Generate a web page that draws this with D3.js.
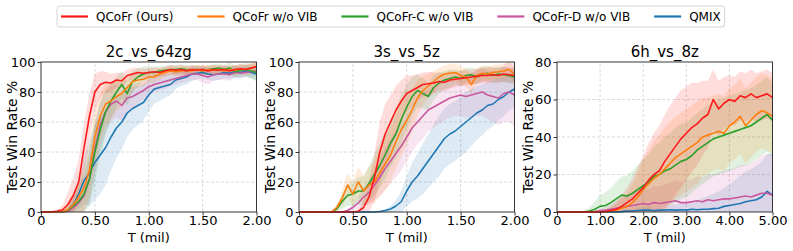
<!DOCTYPE html>
<html>
<head>
<meta charset="utf-8">
<script src="https://cdn.jsdelivr.net/npm/d3@7"></script>
<style>
body { margin: 0; background: #fff; }
text { font-family: "DejaVu Sans", sans-serif; }
</style>
</head>
<body>
<div id="graph"></div>
<script>
// method names + colours (legend order)
const methodNames = ["QCoFr (Ours)", "QCoFr w/o VIB", "QCoFr-C w/o VIB", "QCoFr-D w/o VIB", "QMIX"];
const methodColors = ["#ff1a1a", "#ff7f0e", "#2ca02c", "#c9589e", "#1f77b4"];

// evaluation steps (million timesteps)
const steps2m = d3.range(41).map(i => i * 0.05);
const steps5m = d3.range(41).map(i => i * 0.125);

// ---- 2c_vs_64zg : mean win rate and std
const qcofr2c   = [0,0,0.2,0.5,1.5,5,11,20,43,64,80,85,86.5,86,88,87.5,91,92,93,92.5,93,93.5,93,94,95,94.5,95,94,95,94.5,95,94,95,94.5,95,94,95,95.5,95,96,97];
const novib2c   = [0,0,0,0,0.3,1.5,5,10,16,28,50,64,72,74,77,79,83,87,88,88.5,90,90,92,93,94,93.5,94,94.5,94,95,94,95,94.5,95,94,95,94.5,95.5,95,96,97];
const cnovib2c  = [0,0,0,0,0.3,1,4,7,12,22,40,55,67,74,80,85,79,87,90,92,93,93,94,94.5,95,95,95.5,95,94.5,95,94,95,95.5,96,95,96,93.5,94.5,95,94,93];
const dnovib2c  = [0,0,0,0,0,0.5,3,6,11,22,42,58,67,72,74,71,76,77,79,81,83.5,85,86,87,88,89,90,91,92,92,91,90,91.5,92,92,91.5,93,92.5,93,93.5,94];
const qmix2c    = [0,0,0,0,0,1,5,12,21,26,33,38,43,50,56,60,66,69,71,73,78,82,83,84,85,88,89,90,92,92.5,93,92,91.5,92,93,92.5,93.5,93,94,93,92];
const qcofr2cSd  = [0,0,0.5,1,3,8,12,15,17,15,12,9,7,6,5,5,4,4,3,3,3,3,3,3,3,3,3,3,3,3,3,3,3,3,3,3,3,3,3,3,3];
const novib2cSd  = [0,0,0,0.5,1,4,8,12,15,18,18,16,14,12,10,9,8,6,5,5,4,4,4,3,3,3,3,3,3,3,3,3,3,3,3,3,3,3,3,3,3];
const cnovib2cSd = [0,0,0,0.5,1,3,6,10,14,18,20,18,15,12,10,9,8,7,6,5,4,4,3,3,3,3,3,3,3,3,3,3,3,3,3,4,4,4,4,5,6];
const dnovib2cSd = [0,0,0,0,0.5,2,5,8,12,15,17,16,14,12,11,10,9,8,7,6,6,5,5,5,4,4,4,4,4,4,5,5,4,4,4,4,3,3,3,3,3];
const qmix2cSd   = [0,0,0,0,0.5,2,5,10,16,22,25,26,25,22,20,18,16,14,13,12,11,10,9,8,7,6,5,5,5,4,4,4,4,4,4,4,4,4,4,4,4];

// ---- 3s_vs_5z
const qcofr3s   = [0,0,0,0,0,0,0,0,0,0,0,0.5,3,10,23,40,52,60,68,74,79,81,83,85,85.5,86,87,86.5,88,88.5,89,89.5,90,90.5,91,91,91.5,91,92,91.5,91];
const novib3s   = [0,0,0,0,0,0,0,3,9,18,12,20,14,18,20,26,32,38,47,55,61,68,76,81,84,87,90,92,92.5,93,91,90,85,91,92.5,92,93,93.5,94,95,92];
const cnovib3s  = [0,0,0,0,0,0,0,2,7,11,12,14,14,19,25,31,38,46,52,62,70,77,81,79,77,83,86,88,89,90,89,91,91.5,90,92,92.5,91,92,91.5,91,90];
const dnovib3s  = [0,0,0,0,0,0,0,0,0,1,3,6,10,13,18,23,29,34,39,44,50,56,60,64,68,70,72,74,76,77,78,77,78,79,80,78,77,76,79,80,78];
const qmix3s    = [0,0,0,0,0,0,0,0,0,0,0,0,0,0,0,0.3,1,2,4,7,14,20,24,29,34,39,44,49,52,54,57,60,63,66,68,71,72,75,77,80,82];
const qcofr3sSd  = [0,0,0,0,0,0,0,0,0,0,0,1,4,10,16,20,20,18,16,14,12,10,9,8,8,7,6,6,6,5,5,5,5,5,5,5,5,5,5,5,5];
const novib3sSd  = [0,0,0,0,0,0,0,2,5,8,8,10,10,12,14,16,18,18,18,18,16,14,12,10,8,7,6,6,6,6,6,6,6,5,5,5,5,5,5,5,5];
const cnovib3sSd = [0,0,0,0,0,0,0,2,5,7,8,9,10,12,14,15,16,16,16,16,15,13,11,10,9,8,7,6,6,5,5,5,5,5,5,5,5,5,5,5,5];
const dnovib3sSd = [0,0,0,0,0,0,0,0,0,1,2,4,6,8,10,12,14,15,16,16,16,16,15,15,14,14,13,13,13,13,14,14,15,15,16,16,17,18,19,20,21];
const qmix3sSd   = [0,0,0,0,0,0,0,0,0,0,0,0,0,0,0,0.5,1,2,4,7,10,13,15,17,18,19,20,20,20,20,20,20,19,18,17,16,15,14,13,12,12];

// ---- 6h_vs_8z
const qcofr6h   = [0,0,0,0,0,0,0,0,0,0.3,0.8,1.5,3,5,7,10,13,17,20,22,27,31,35,39,42,45,47,50,52,60,55,58,60,59,62,61,63,61,62,63,61];
const novib6h   = [0,0,0,0,0,0,0,0,0,0.2,0.5,1,2,3,5,8,12,15,18,20,23,26,29,31,33,35,37,40,41,42,43,42,46,48,51,46,49,52,54,53,51];
const cnovib6h  = [0,0,0,0,0,0,0.5,1.5,3,3.5,5,7,9,8.5,10,12,14,16,19,20,22,23,25,27,28,30,33,35,37,39,40,41,42,43,44,45,46,48,50,52,49];
const dnovib6h  = [0,0,0,0,0,0,0,0.3,0.7,1,1.5,2,2.5,3,3.5,4,4.5,4,5,4.5,5,5.5,6,5,5,5.5,6,5.5,6.5,6,6.5,7,7,7.5,8,8.5,8,9,10,10,9];
const qmix6h    = [0,0,0,0,0,0,0,0,0,0,0,0,0.2,0.5,0.5,0.8,1,1,0.8,1,1,1.2,1,1.2,1,1.5,1.2,1.5,1.5,1.8,2,3,3.5,4,4.5,5.5,6,6.5,8,11,9];
const qcofr6hSd  = [0,0,0,0,0,0,0,0,0.5,1,2,4,6,8,11,14,17,20,22,24,25,26,26,26,25,24,22,20,18,16,15,14,13,13,13,13,13,13,13,13,13];
const novib6hSd  = [0,0,0,0,0,0,0,0,0.5,1,2,3,5,7,10,13,16,18,20,21,22,22,22,22,22,22,22,21,20,20,20,20,20,20,20,20,20,20,20,20,20];
const cnovib6hSd = [0,0,0,0,0,0.5,2,4,6,7,8,9,10,11,12,13,14,15,16,17,18,19,20,20,20,20,20,20,20,20,20,20,20,20,20,20,20,20,20,20,20];
const dnovib6hSd = [0,0,0,0,0,0,0,0.5,1,2,3,4,5,6,7,8,8,8,9,9,10,10,11,11,12,12,13,13,14,14,15,15,16,16,17,17,18,19,20,21,22];
const qmix6hSd   = [0,0,0,0,0,0,0,0,0,0,0,0,0.5,1,1,1.5,2,2,2,2.5,3,3,3,3.5,4,4.5,5,6,7,8,9,10,11,13,15,16,17,18,19,20,22];

const panels = [
	{title: "2c_vs_64zg", steps: steps2m, xMax: 2, yMax: 100, xTicks: [0, 0.5, 1, 1.5, 2], yTicks: [0, 20, 40, 60, 80, 100],
	 means: [qcofr2c, novib2c, cnovib2c, dnovib2c, qmix2c], sds: [qcofr2cSd, novib2cSd, cnovib2cSd, dnovib2cSd, qmix2cSd]},
	{title: "3s_vs_5z", steps: steps2m, xMax: 2, yMax: 100, xTicks: [0, 0.5, 1, 1.5, 2], yTicks: [0, 20, 40, 60, 80, 100],
	 means: [qcofr3s, novib3s, cnovib3s, dnovib3s, qmix3s], sds: [qcofr3sSd, novib3sSd, cnovib3sSd, dnovib3sSd, qmix3sSd]},
	{title: "6h_vs_8z", steps: steps5m, xMax: 5, yMax: 80, xTicks: [0, 1, 2, 3, 4, 5], yTicks: [0, 20, 40, 60, 80],
	 means: [qcofr6h, novib6h, cnovib6h, dnovib6h, qmix6h], sds: [qcofr6hSd, novib6hSd, cnovib6hSd, dnovib6hSd, qmix6hSd]}
];

const width = 793, height = 251;
const panelLeft = [41, 299, 557];
const panelWidth = 215.5;
const padding = {top: 62, bottom: 39};

const graph = d3.select("div#graph")
	.append("svg")
	.attr("width", width)
	.attr("height", height);

const tickFormat = d => d === 0 ? "0" : d3.format(".2f")(d);

panels.forEach(function(p, k) {
	const x0 = panelLeft[k];
	const xScale = d3.scaleLinear().domain([0, p.xMax]).range([x0, x0 + panelWidth]);
	const yScale = d3.scaleLinear().domain([0, p.yMax]).range([height - padding.bottom, padding.top]);
	const g = graph.append("g").attr("class", "panel");

	// dashed grid
	g.append("g").selectAll("line.vgrid").data(p.xTicks.slice(1, -1)).enter()
		.append("line")
		.attr("x1", d => xScale(d)).attr("x2", d => xScale(d))
		.attr("y1", yScale(0)).attr("y2", yScale(p.yMax))
		.attr("stroke", "#d0d0d0").attr("stroke-width", 0.8).attr("stroke-dasharray", "3,2");
	g.append("g").selectAll("line.hgrid").data(p.yTicks.slice(1, -1)).enter()
		.append("line")
		.attr("x1", xScale(0)).attr("x2", xScale(p.xMax))
		.attr("y1", d => yScale(d)).attr("y2", d => yScale(d))
		.attr("stroke", "#d0d0d0").attr("stroke-width", 0.8).attr("stroke-dasharray", "3,2");

	// std bands first, then lines (QMIX at the back, ours on top)
	const order = [4, 3, 2, 1, 0];
	order.forEach(function(m) {
		const rows = p.steps.map((t, i) => ({t: t, v: p.means[m][i], s: p.sds[m][i]}));
		const area = d3.area()
			.x(d => xScale(d.t))
			.y0(d => yScale(Math.max(0, d.v - d.s)))
			.y1(d => yScale(Math.min(p.yMax, d.v + d.s)));
		g.append("path").datum(rows)
			.attr("fill", methodColors[m])
			.attr("fill-opacity", 0.15)
			.attr("stroke", "none")
			.attr("d", area);
	});
	order.forEach(function(m) {
		const rows = p.steps.map((t, i) => ({t: t, v: p.means[m][i]}));
		const line = d3.line()
			.x(d => xScale(d.t))
			.y(d => yScale(d.v));
		g.append("path").datum(rows)
			.attr("fill", "none")
			.attr("stroke", methodColors[m])
			.attr("stroke-width", 1.6)
			.attr("stroke-linejoin", "round")
			.attr("d", line);
	});

	// frame
	g.append("rect")
		.attr("x", xScale(0)).attr("y", yScale(p.yMax))
		.attr("width", xScale(p.xMax) - xScale(0))
		.attr("height", yScale(0) - yScale(p.yMax))
		.attr("fill", "none").attr("stroke", "#222").attr("stroke-width", 0.9);

	const xAxis = d3.axisBottom(xScale).tickValues(p.xTicks).tickFormat(tickFormat).tickSizeOuter(0).tickSize(3.5).tickPadding(0);
	const yAxis = d3.axisLeft(yScale).tickValues(p.yTicks).tickFormat(d3.format("d")).tickSizeOuter(0).tickSize(3.5).tickPadding(2);

	const gx = g.append("g")
		.attr("class", "x axis")
		.attr("transform", `translate(0, ${yScale(0)})`)
		.call(xAxis);
	const gy = g.append("g")
		.attr("class", "y axis")
		.attr("transform", `translate(${xScale(0)}, 0)`)
		.call(yAxis);
	[gx, gy].forEach(a => {
		a.select(".domain").remove();
		a.attr("font-size", 13).attr("font-family", "DejaVu Sans");
		a.selectAll("line").attr("stroke", "#222").attr("stroke-width", 0.9);
		a.selectAll("text").attr("fill", "#000");
	});

	g.append("text")
		.attr("x", (xScale(0) + xScale(p.xMax)) / 2)
		.attr("y", 57)
		.attr("text-anchor", "middle")
		.attr("font-size", 15)
		.text(p.title);

	g.append("text")
		.attr("x", (xScale(0) + xScale(p.xMax)) / 2)
		.attr("y", 242)
		.attr("text-anchor", "middle")
		.attr("font-size", 13)
		.text("T (mil)");

	g.append("text")
		.attr("transform", "rotate(-90)")
		.attr("x", -(yScale(0) + yScale(p.yMax)) / 2)
		.attr("y", x0 - 24)
		.attr("text-anchor", "middle")
		.attr("font-size", 14)
		.text("Test Win Rate %");
});

// legend across the top
const legend = graph.append("g").attr("class", "legend");
const legendBox = legend.append("rect")
	.attr("y", 6).attr("height", 21)
	.attr("rx", 3)
	.attr("fill", "#fff").attr("stroke", "#d4d4d4").attr("stroke-width", 1);

let lx = 61;
methodNames.forEach(function(name, i) {
	legend.append("line")
		.attr("x1", lx).attr("x2", lx + 27)
		.attr("y1", 16.5).attr("y2", 16.5)
		.attr("stroke", methodColors[i]).attr("stroke-width", 2.2);
	const t = legend.append("text")
		.attr("x", lx + 35)
		.attr("y", 21)
		.attr("font-size", 12)
		.text(name);
	lx = lx + 35 + t.node().getComputedTextLength() + 24;
});
legendBox.attr("x", 57).attr("width", lx - 24 + 4 - 57);
</script>
</body>
</html>
